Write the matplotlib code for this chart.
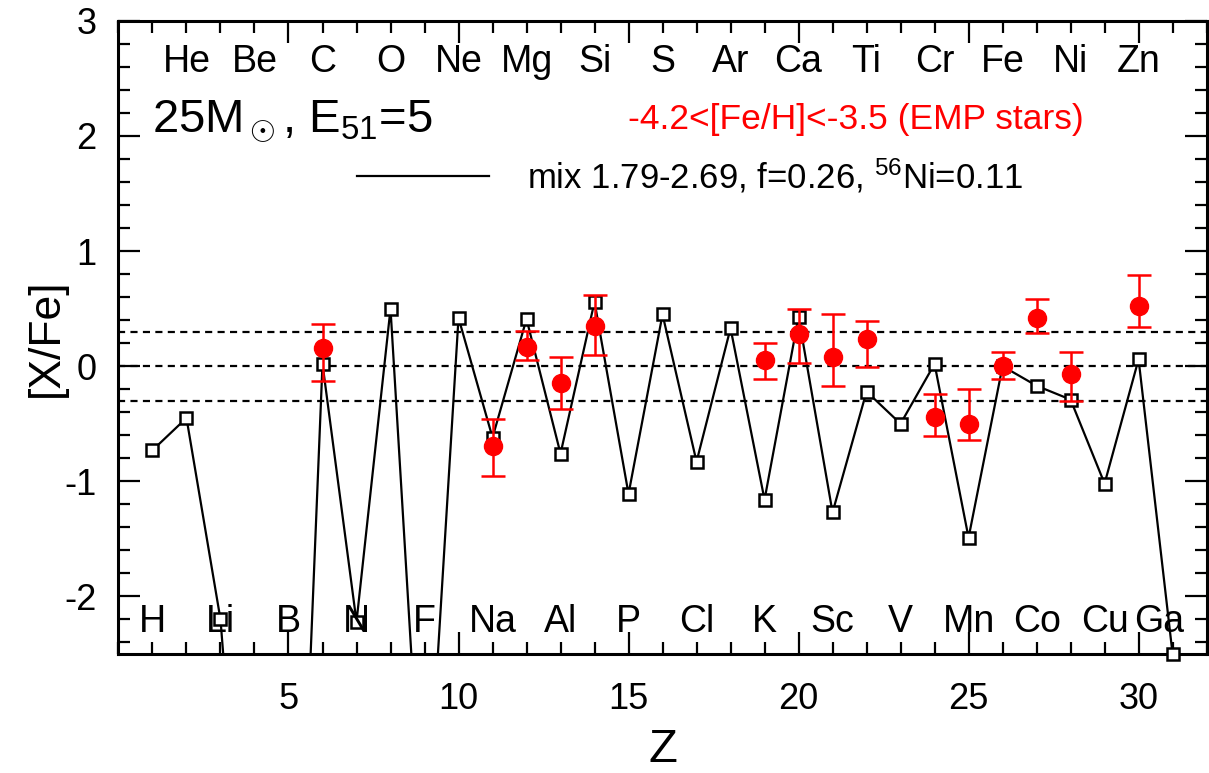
import numpy as np
import matplotlib
matplotlib.use("Agg")
import matplotlib.pyplot as plt
from matplotlib.ticker import MultipleLocator

plt.rcParams['font.family'] = ['Liberation Sans', 'DejaVu Sans']
plt.rcParams['mathtext.fontset'] = 'custom'
plt.rcParams['mathtext.rm'] = 'Liberation Sans'
plt.rcParams['mathtext.it'] = 'Liberation Sans'
plt.rcParams['axes.unicode_minus'] = False

# Model yields (black squares): [X/Fe] for Z = 1..31
model_Z = list(range(1, 32))
model_XFe = [-0.73, -0.45, -2.20, -5.95, -7.20, 0.02, -2.22, 0.50, -4.40, 0.42,
             -0.62, 0.41, -0.76, 0.56, -1.11, 0.45, -0.83, 0.33, -1.16, 0.43,
             -1.27, -0.22, -0.50, 0.02, -1.49, 0.00, -0.17, -0.29, -1.02, 0.06,
             -2.50]

# EMP star observations (red dots)
obs_Z = [6, 11, 12, 13, 14, 19, 20, 21, 22, 24, 25, 26, 27, 28, 30]
obs_XFe = [0.16, -0.69, 0.17, -0.15, 0.35, 0.05, 0.28, 0.08, 0.24, -0.44,
           -0.50, 0.00, 0.42, -0.07, 0.52]
obs_err_hi = [0.37, -0.46, 0.31, 0.08, 0.62, 0.20, 0.50, 0.45, 0.39, -0.24,
              -0.20, 0.12, 0.58, 0.12, 0.79]
obs_err_lo = [-0.13, -0.95, 0.05, -0.37, 0.10, -0.11, 0.03, -0.17, -0.01, -0.61,
              -0.64, -0.11, 0.29, -0.30, 0.34]

# Element labels
top_elems = ['He', 'Be', 'C', 'O', 'Ne', 'Mg', 'Si', 'S', 'Ar', 'Ca', 'Ti',
             'Cr', 'Fe', 'Ni', 'Zn']
top_Z = [2, 4, 6, 8, 10, 12, 14, 16, 18, 20, 22, 24, 26, 28, 30]
bot_elems = ['H', 'Li', 'B', 'N', 'F', 'Na', 'Al', 'P', 'Cl', 'K', 'Sc', 'V',
             'Mn', 'Co', 'Cu', 'Ga']
bot_Z = [1, 3, 5, 7, 9, 11, 13, 15, 17, 19, 21, 23, 25, 27, 29, 30.6]

ref_lines = [0.3, 0.0, -0.3]

fig = plt.figure(figsize=(12.09, 7.73), dpi=100)
ax = fig.add_axes([0.098, 0.154, 0.900, 0.819])
ax.set_xlim(0, 32)
ax.set_ylim(-2.5, 3)

for yv in ref_lines:
    ax.axhline(yv, color='black', lw=1.6, ls=(0, (3.2, 2.4)), zorder=1)

mz = np.array(model_Z, dtype=float)
my = np.array(model_XFe, dtype=float)
ax.plot(mz, my, color='black', lw=1.6, zorder=2)
vis = my >= -2.5 - 1e-9
ax.plot(mz[vis], my[vis], ls='none', marker='s', ms=9, mfc='white', mec='black',
        mew=1.8, zorder=3, clip_on=False)

oz = np.array(obs_Z, dtype=float)
oy = np.array(obs_XFe)
yerr = np.vstack([oy - np.array(obs_err_lo), np.array(obs_err_hi) - oy])
ax.errorbar(oz, oy, yerr=yerr, fmt='o', color='red', ms=13, elinewidth=1.8,
            capsize=8.5, capthick=1.8, zorder=4)

for z, el in zip(top_Z, top_elems):
    ax.text(z, 2.64, el, ha='center', va='center', fontsize=27)
for z, el in zip(bot_Z, bot_elems):
    ax.text(z, -2.22, el, ha='center', va='center', fontsize=27)

ax.text(1.0, 2.13, r'25M$_\odot$, E$_{51}$=5', ha='left', va='center', fontsize=34)
ax.text(21.7, 2.14, '-4.2<[Fe/H]<-3.5 (EMP stars)', ha='center', va='center',
        fontsize=25.5, color='red')
ax.plot([7.0, 10.9], [1.65, 1.65], color='black', lw=1.6)
ax.text(12.0, 1.65, r'mix 1.79-2.69, f=0.26, $^{56}$Ni=0.11', ha='left',
        va='center', fontsize=25)

ax.set_xlabel('Z', fontsize=34, labelpad=8)
ax.set_ylabel('[X/Fe]', fontsize=32, labelpad=-2)

ax.xaxis.set_major_locator(MultipleLocator(5))
ax.xaxis.set_minor_locator(MultipleLocator(1))
ax.yaxis.set_major_locator(MultipleLocator(1))
ax.yaxis.set_minor_locator(MultipleLocator(0.2))
ax.set_xticks([5, 10, 15, 20, 25, 30])
ax.tick_params(which='both', direction='in', top=True, right=True, width=1.6)
ax.tick_params(which='major', length=16, labelsize=26)
ax.tick_params(which='minor', length=8.5)
ax.tick_params(axis='x', which='major', pad=20)
ax.tick_params(axis='y', which='major', pad=16)
for s in ax.spines.values():
    s.set_linewidth(2.2)

fig.savefig('out.png', dpi=100)
